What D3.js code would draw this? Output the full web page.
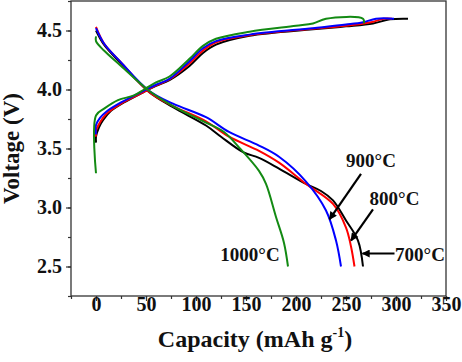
<!DOCTYPE html>
<html>
<head>
<meta charset="utf-8">
<script src="https://cdn.jsdelivr.net/npm/d3@7"></script>
<style>
  body { margin: 0; background: #fff; }
  svg text { font-family: "Liberation Serif", "Times New Roman", serif; font-weight: bold; }
</style>
</head>
<body>
<svg id="chart"></svg>
<script>
// series names and colours
const temps = ["700°C", "800°C", "900°C", "1000°C"];
const colors = ["#000000", "#ff0000", "#0000ff", "#138a13"];

// charge curves [capacity, voltage]
const charge700 = [[0,3.55],[0,3.6],[3,3.68],[7,3.74],[15,3.82],[28,3.89],[48,3.98],[60,4.03],[73.5,4.08],[93.5,4.2],[107,4.31],[120,4.38],[153.5,4.455],[217,4.51],[250,4.535],[277,4.56],[294,4.595],[312,4.6]];
const charge800 = [[0,3.6],[0,3.65],[4,3.72],[10,3.79],[25,3.88],[48,3.98],[60,4.035],[73.5,4.085],[93.5,4.22],[107,4.33],[120,4.4],[153.5,4.46],[217,4.515],[250,4.54],[275,4.57],[288,4.6],[296,4.6]];
const charge900 = [[0,3.62],[0,3.7],[4,3.76],[10,3.81],[25,3.89],[48,3.99],[60,4.04],[73.5,4.09],[93.5,4.24],[107,4.35],[120,4.41],[153.5,4.465],[217,4.52],[250,4.55],[267,4.57],[280,4.6],[298,4.6]];
const charge1000 = [[0,3.29],[0,3.78],[8.5,3.84],[22,3.91],[38,3.95],[48,4.0],[60,4.06],[73.5,4.11],[93.5,4.26],[107,4.37],[120,4.43],[153.5,4.49],[200,4.54],[217,4.56],[230,4.6],[267,4.6],[268,4.56]];

// discharge curves [capacity, voltage]
const discharge700 = [[0,4.5],[8,4.38],[25,4.22],[53,3.98],[77,3.85],[110,3.695],[125,3.6],[147,3.47],[163,3.42],[183,3.33],[210,3.2],[225,3.14],[237,3.06],[250,2.89],[262,2.72],[267,2.5]];
const discharge800 = [[0,4.53],[8,4.39],[25,4.23],[53,3.98],[77,3.86],[110,3.73],[133,3.6],[163,3.48],[183,3.38],[210,3.2],[237,3.03],[250,2.83],[255,2.67],[258.5,2.5]];
const discharge900 = [[0,4.52],[8,4.39],[25,4.23],[53,3.99],[77,3.88],[110,3.765],[133,3.64],[163,3.525],[183,3.43],[210,3.22],[230,2.975],[240,2.72],[245,2.5]];
const discharge1000 = [[0,4.45],[0,4.41],[8,4.33],[25,4.2],[53,3.99],[77,3.86],[110,3.72],[128,3.64],[143,3.51],[163,3.31],[170,3.2],[180,2.92],[188,2.7],[192,2.5]];

const xTicks = [0, 50, 100, 150, 200, 250, 300, 350];
const yTicks = [2.5, 3.0, 3.5, 4.0, 4.5];

// label text, label position, arrow start, arrow end (data units)
const labels = [
  {text: "900°C", at: [275, 3.34], from: [265, 3.285], to: [233.5, 2.9]},
  {text: "800°C", at: [298.5, 3.02], from: [277, 2.985], to: [255, 2.72]},
  {text: "700°C", at: [324, 2.55], from: [298.5, 2.61], to: [266.5, 2.61]},
  {text: "1000°C", at: [154, 2.55]}
];

const width = 462;
const height = 362;
const marginTop = 1;
const marginRight = 16;
const marginBottom = 66;
const marginLeft = 71;

const series = [
  {t: temps[0], c: colors[0], charge: charge700, discharge: discharge700},
  {t: temps[1], c: colors[1], charge: charge800, discharge: discharge800},
  {t: temps[2], c: colors[2], charge: charge900, discharge: discharge900},
  {t: temps[3], c: colors[3], charge: charge1000, discharge: discharge1000}
];

const x = d3.scaleLinear().domain([-25, 350]).range([marginLeft, width - marginRight]);
const y = d3.scaleLinear().domain([2.25, 4.75]).range([height - marginBottom, marginTop]);

const svg = d3.select("#chart")
    .attr("width", width)
    .attr("height", height)
    .attr("viewBox", [0, 0, width, height]);

// frame
svg.append("rect")
    .attr("x", x(-25)).attr("y", y(4.75))
    .attr("width", x(350) - x(-25)).attr("height", y(2.25) - y(4.75))
    .attr("fill", "none").attr("stroke", "#333").attr("stroke-width", 1.3);

const styleTicks = g => g.selectAll("text")
    .style("font-family", "'Liberation Serif', serif")
    .style("font-weight", "bold")
    .style("font-size", "20px")
    .attr("fill", "#111");

// x axis with minor ticks
svg.append("g")
    .attr("transform", `translate(0,${y(2.25)})`)
    .call(d3.axisBottom(x).tickValues(d3.range(-25, 351, 25)).tickSize(3).tickFormat(""))
    .call(g => g.select(".domain").remove());
svg.append("g")
    .attr("transform", `translate(0,${y(2.25)})`)
    .call(d3.axisBottom(x).tickValues(xTicks).tickSize(5).tickFormat(d3.format("d")))
    .call(g => g.select(".domain").remove())
    .call(styleTicks)
    .call(g => g.selectAll("text").attr("y", 1));

// y axis with minor ticks
svg.append("g")
    .attr("transform", `translate(${x(-25)},0)`)
    .call(d3.axisLeft(y).tickValues(d3.range(2.25, 4.76, 0.25)).tickSize(3).tickFormat(""))
    .call(g => g.select(".domain").remove());
svg.append("g")
    .attr("transform", `translate(${x(-25)},0)`)
    .call(d3.axisLeft(y).tickValues(yTicks).tickSize(5).tickPadding(4).tickFormat(d3.format(".1f")))
    .call(g => g.select(".domain").remove())
    .call(styleTicks);

svg.selectAll(".tick line").attr("stroke", "#333").attr("stroke-width", 1.2);

// axis titles
const xt = svg.append("text")
    .attr("x", 255).attr("y", 347)
    .attr("text-anchor", "middle")
    .style("font-size", "24px")
    .attr("fill", "#111");
xt.append("tspan").text("Capacity (mAh g");
xt.append("tspan").style("font-size", "14px").attr("dy", -10).text("-1");
xt.append("tspan").attr("dy", 10).text(")");

svg.append("text")
    .attr("transform", `translate(19,${(y(2.25) + y(4.75)) / 2}) rotate(-90)`)
    .attr("text-anchor", "middle")
    .style("font-size", "23px")
    .attr("fill", "#111")
    .text("Voltage (V)");

// curves
const line = d3.line()
    .x(d => x(d[0]))
    .y(d => y(d[1]))
    .curve(d3.curveCatmullRom.alpha(0.5));

const g = svg.append("g").attr("fill", "none").attr("stroke-width", 2);
series.forEach(s => {
  g.append("path").attr("d", line(s.charge)).attr("stroke", s.c);
  g.append("path").attr("d", line(s.discharge)).attr("stroke", s.c);
});

// annotations with arrows
svg.append("defs").append("marker")
    .attr("id", "arrow")
    .attr("viewBox", "0 0 10 10")
    .attr("refX", 9).attr("refY", 5)
    .attr("markerUnits", "userSpaceOnUse")
    .attr("markerWidth", 10).attr("markerHeight", 8)
    .attr("orient", "auto")
  .append("path")
    .attr("d", "M0,0L10,5L0,10z")
    .attr("fill", "#000");

labels.forEach(l => {
  svg.append("text")
      .attr("x", x(l.at[0])).attr("y", y(l.at[1]))
      .attr("text-anchor", "middle")
      .style("font-size", "19px")
      .attr("fill", "#111")
      .text(l.text);
  if (l.from) {
    svg.append("line")
        .attr("x1", x(l.from[0])).attr("y1", y(l.from[1]))
        .attr("x2", x(l.to[0])).attr("y2", y(l.to[1]))
        .attr("stroke", "#000").attr("stroke-width", 2.2)
        .attr("marker-end", "url(#arrow)");
  }
});
</script>
</body>
</html>
